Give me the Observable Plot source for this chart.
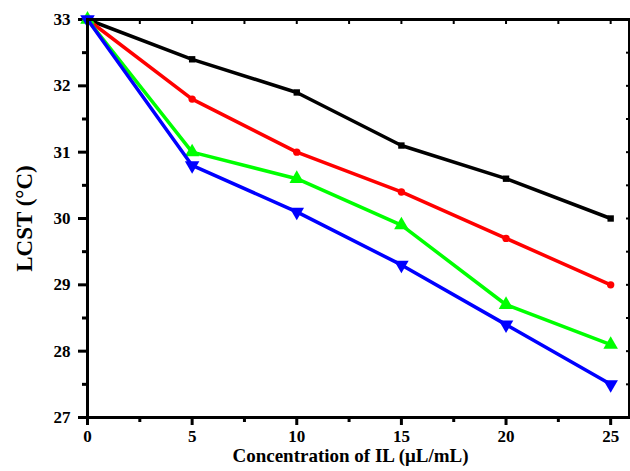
<!DOCTYPE html>
<html><head><meta charset="utf-8">
<script src="https://cdn.jsdelivr.net/npm/d3@7"></script>
<script src="https://cdn.jsdelivr.net/npm/@observablehq/plot@0.6"></script>
<style>
body{margin:0;background:#fff;}
svg{font-family:"Liberation Serif","Times New Roman",serif;}
svg g[aria-label$="tick label"] text{font-size:17px;font-weight:bold;fill:#000;}
</style>
</head><body><div id="chart"></div>
<script>
const conc = [0, 5, 10, 15, 20, 25];
const seriesBlack = [33, 32.4, 31.9, 31.1, 30.6, 30.0];
const seriesRed   = [33, 31.8, 31.0, 30.4, 29.7, 29.0];
const seriesGreen = [33, 31.0, 30.6, 29.9, 28.7, 28.1];
const seriesBlue  = [33, 30.8, 30.1, 29.3, 28.4, 27.5];
const xTicks = [0, 5, 10, 15, 20, 25];
const xMinor = [2.5, 7.5, 12.5, 17.5, 22.5];
const yTicks = [27, 28, 29, 30, 31, 32, 33];
const yMinor = [27.5, 28.5, 29.5, 30.5, 31.5, 32.5];
const xTitle = "Concentration of IL (μL/mL)";
const yTitle = "LCST (°C)";

const series = [
  {vals: seriesBlack, color: "#000000", symbol: "square", r: 3.6, rotate: 0},
  {vals: seriesRed,   color: "#ff0000", symbol: "circle", r: 3.7, rotate: 0},
  {vals: seriesGreen, color: "#00ff00", symbol: "triangle", r: 5.4, rotate: 0},
  {vals: seriesBlue,  color: "#0000ff", symbol: "triangle", r: 5.4, rotate: 180}
];

const marks = [];
for (const s of series) {
  const pts = conc.map((c, i) => ({x: c, y: s.vals[i]}));
  marks.push(Plot.line(pts, {x: "x", y: "y", stroke: s.color, strokeWidth: 3.5}));
  marks.push(Plot.dot(pts, {x: "x", y: "y", fill: s.color, stroke: "none", symbol: s.symbol, r: s.r, rotate: s.rotate}));
}
const blank = () => "";

const chart = Plot.plot({
  width: 630,
  height: 471,
  marginLeft: 87,
  marginTop: 19,
  marginRight: 1,
  marginBottom: 54,
  style: {fontFamily: "Liberation Serif", fontWeight: "bold", fontSize: "16px", color: "#000"},
  x: {domain: [0, 25.9], label: null},
  y: {domain: [27, 33], label: null},
  marks: [
    Plot.axisX(xTicks, {tickSize: 8, strokeWidth: 3, tickPadding: 4, tickFormat: "d", label: null}),
    Plot.axisX(xMinor, {tickSize: 5, strokeWidth: 3, tickFormat: blank, label: null}),
    Plot.axisX(xTicks.concat(xMinor), {anchor: "top", tickSize: -4, strokeWidth: 2, tickFormat: blank, label: null}),
    Plot.axisY(yTicks, {tickSize: 9, strokeWidth: 3, tickPadding: 8, tickFormat: "d", label: null}),
    Plot.axisY(yMinor, {tickSize: 5, strokeWidth: 3, tickFormat: blank, label: null}),
    Plot.axisY(yTicks.concat(yMinor), {anchor: "right", tickSize: -4, strokeWidth: 2, tickFormat: blank, label: null}),
    ...marks,
    Plot.frame({stroke: "#000", strokeWidth: 3}),
    Plot.text([xTitle], {frameAnchor: "bottom", dx: -8, dy: 44, fontSize: 19, fontWeight: "bold"}),
    Plot.text([yTitle], {frameAnchor: "left", textAnchor: "middle", dx: -63, rotate: -90, fontSize: 23, fontWeight: "bold"})
  ]
});
document.getElementById("chart").appendChild(chart);
</script>
</body></html>
